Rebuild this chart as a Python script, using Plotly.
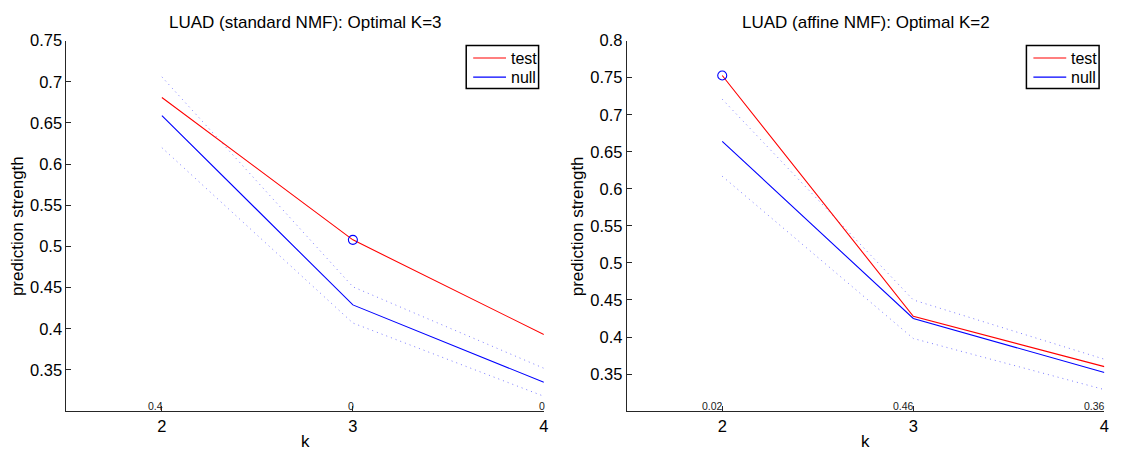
import plotly.graph_objects as go

# ---------------- data ----------------
k_values = [2, 3, 4]

std_test = [0.681, 0.508, 0.393]
std_null = [0.659, 0.429, 0.335]
std_null_upper = [0.706, 0.451, 0.352]
std_null_lower = [0.620, 0.407, 0.318]
std_pvalues = ["0.4", "0", "0"]
std_optimal_k = 3

aff_test = [0.753, 0.428, 0.360]
aff_null = [0.664, 0.425, 0.352]
aff_null_upper = [0.721, 0.450, 0.370]
aff_null_lower = [0.617, 0.398, 0.329]
aff_pvalues = ["0.02", "0.46", "0.36"]
aff_optimal_k = 2

titles = ["LUAD (standard NMF): Optimal K=3", "LUAD (affine NMF): Optimal K=2"]
legend_names = ["test", "null"]
x_label = "k"
y_label = "prediction strength"
x_ticks = [2, 3, 4]
y_ticks_std = [0.35, 0.4, 0.45, 0.5, 0.55, 0.6, 0.65, 0.7, 0.75]
y_ticks_aff = [0.35, 0.4, 0.45, 0.5, 0.55, 0.6, 0.65, 0.7, 0.75, 0.8]

FONT = "Liberation Sans, Arial, Helvetica, sans-serif"
W, H = 1125, 450
RED = "#ff0000"
BLUE = "#0000ff"
DOT = "rgba(80,80,255,0.75)"


def px(x):
    return x / W


def py(y):
    return 1 - y / H


PLOT_TOP, PLOT_BOT = 32.3, 410.3
panels = [
    dict(test=std_test, null=std_null, up=std_null_upper, lo=std_null_lower,
         pv=std_pvalues, opt=std_optimal_k, xa="x", ya="y",
         yrange=[0.3, 0.75], yticks=y_ticks_std, xl=66.7, xr=546.3,
         leg=(468.3, 541.0), title=titles[0], ytitle_x=18.3),
    dict(test=aff_test, null=aff_null, up=aff_null_upper, lo=aff_null_lower,
         pv=aff_pvalues, opt=aff_optimal_k, xa="x2", ya="y2",
         yrange=[0.3, 0.8], yticks=y_ticks_aff, xl=629.5, xr=1109.3,
         leg=(1031.0, 1104.0), title=titles[1], ytitle_x=580.0),
]

fig = go.Figure()

for p in panels:
    for band in (p["up"], p["lo"]):
        fig.add_trace(go.Scatter(x=k_values, y=band, mode="lines", showlegend=False,
                                 line=dict(color=DOT, width=1, dash="1px,4px"),
                                 xaxis=p["xa"], yaxis=p["ya"]))
    fig.add_trace(go.Scatter(x=k_values, y=p["null"], mode="lines", name="null",
                             showlegend=False, line=dict(color=BLUE, width=1.1),
                             xaxis=p["xa"], yaxis=p["ya"]))
    fig.add_trace(go.Scatter(x=k_values, y=p["test"], mode="lines", name="test",
                             showlegend=False, line=dict(color=RED, width=1.1),
                             xaxis=p["xa"], yaxis=p["ya"]))
    idx = k_values.index(p["opt"])
    fig.add_trace(go.Scatter(x=[p["opt"]], y=[p["test"][idx]], mode="markers",
                             showlegend=False,
                             marker=dict(symbol="circle-open", size=9,
                                         color=BLUE, line=dict(width=1.1)),
                             xaxis=p["xa"], yaxis=p["ya"]))
    # p-value labels just above the x axis
    for kv, txt in zip(k_values, p["pv"]):
        fig.add_annotation(x=kv, y=p["yrange"][0], xref=p["xa"], yref=p["ya"],
                           text=txt, showarrow=False, xanchor="right",
                           yanchor="bottom", xshift=2, yshift=-2, borderpad=0,
                           font=dict(family=FONT, size=10.5, color="#222"))
    # title
    fig.add_annotation(x=px((p["xl"] + p["xr"]) / 2), y=py(13.5), xref="paper",
                       yref="paper", text=p["title"], showarrow=False,
                       xanchor="center", yanchor="middle",
                       font=dict(family=FONT, size=17, color="#000"))
    # axis titles
    fig.add_annotation(x=px((p["xl"] + p["xr"]) / 2), y=py(441.5), xref="paper",
                       yref="paper", text=x_label, showarrow=False,
                       xanchor="center", yanchor="middle",
                       font=dict(family=FONT, size=17, color="#000"))
    fig.add_annotation(x=px(p["ytitle_x"]), y=py((PLOT_TOP + PLOT_BOT) / 2),
                       xref="paper", yref="paper", text=y_label, showarrow=False,
                       textangle=-90, xanchor="center", yanchor="middle",
                       font=dict(family=FONT, size=17, color="#000"))
    # legend box
    lx0, lx1 = p["leg"]
    ly0, ly1 = 37.3, 81.0
    fig.add_shape(type="rect", xref="paper", yref="paper",
                  x0=px(lx0), x1=px(lx1), y0=py(ly1), y1=py(ly0),
                  line=dict(color="#000", width=1.5), fillcolor="white", layer="above")
    for i, (name, col) in enumerate(zip(legend_names, [RED, BLUE])):
        yy = 50.0 + i * 19.5
        fig.add_shape(type="line", xref="paper", yref="paper",
                      x0=px(lx0 + 7), x1=px(lx0 + 40), y0=py(yy), y1=py(yy),
                      line=dict(color=col, width=1.1), layer="above")
        fig.add_annotation(x=px(lx0 + 44), y=py(yy), xref="paper", yref="paper",
                           text=name, showarrow=False, xanchor="left",
                           yanchor="middle", borderpad=0,
                           font=dict(family=FONT, size=16, color="#000"))

axis_common = dict(showline=True, linecolor="#262626", linewidth=1,
                   ticks="inside", ticklen=5, tickcolor="#262626",
                   showgrid=False, zeroline=False, mirror=False,
                   tickfont=dict(family=FONT, size=16.5, color="#000"))

fig.update_layout(
    width=W, height=H,
    margin=dict(l=0, r=0, t=0, b=0),
    paper_bgcolor="white", plot_bgcolor="white",
    font=dict(family=FONT, color="#000"),
    showlegend=False,
    xaxis=dict(domain=[px(66.7), px(546.3)], range=[1.5, 4], tickvals=x_ticks,
               anchor="y", **axis_common),
    yaxis=dict(domain=[py(PLOT_BOT), py(PLOT_TOP)], range=[0.3, 0.75],
               tickvals=y_ticks_std, anchor="x", **axis_common),
    xaxis2=dict(domain=[px(629.5), px(1109.3)], range=[1.5, 4], tickvals=x_ticks,
                anchor="y2", **axis_common),
    yaxis2=dict(domain=[py(PLOT_BOT), py(PLOT_TOP)], range=[0.3, 0.8],
                tickvals=y_ticks_aff, anchor="x2", **axis_common),
)

fig.write_html("out.html")
